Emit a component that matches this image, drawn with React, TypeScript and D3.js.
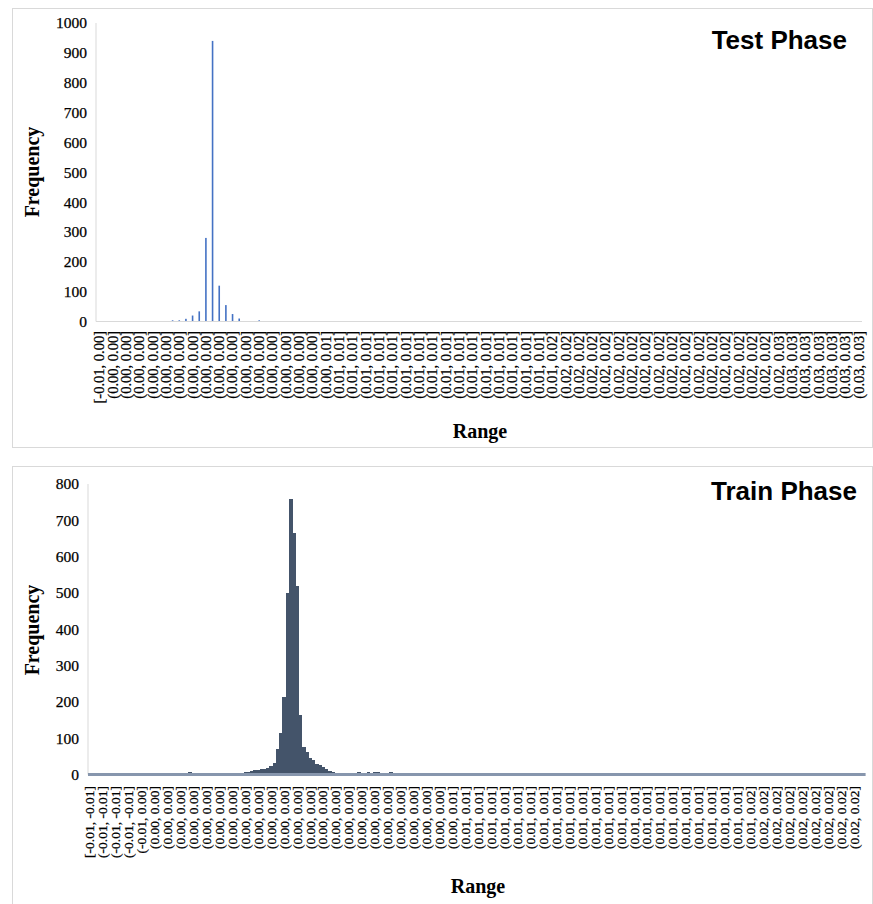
import React from "react";
import * as d3 from "d3";

// Bin labels, stored as [label, how many consecutive bins carry it]
const testLabelRuns: [string, number][] = [
  ["[-0.01, 0.00]", 1],
  ["(0.00, 0.00]", 16],
  ["(0.00, 0.01]", 1],
  ["(0.01, 0.01]", 16],
  ["(0.01, 0.02]", 1],
  ["(0.02, 0.02]", 16],
  ["(0.02, 0.03]", 1],
  ["(0.03, 0.03]", 6],
];

const trainLabelRuns: [string, number][] = [
  ["[-0.01, -0.01]", 1],
  ["(-0.01, -0.01]", 3],
  ["(-0.01, 0.00]", 1],
  ["(0.00, 0.00]", 23],
  ["(0.00, 0.01]", 1],
  ["(0.01, 0.01]", 22],
  ["(0.01, 0.02]", 1],
  ["(0.02, 0.02]", 8],
];

// Frequencies per bin (115 bins, every 2nd bin labelled)
const testCounts = [
  0, 0, 0, 0, 0, 0, 0, 0, 0, 0, 0, 4, 4, 9, 20, 34, 280, 940, 120, 55,
  25, 10, 0, 0, 4, 0, 0, 0, 0, 0, 0, 0, 0, 0, 0, 0, 0, 0, 0, 0,
  0, 0, 0, 0, 0, 0, 0, 0, 0, 0, 0, 0, 0, 0, 0, 0, 0, 0, 0, 0,
  0, 0, 0, 0, 0, 0, 0, 0, 0, 0, 0, 0, 0, 0, 0, 0, 0, 0, 0, 0,
  0, 0, 0, 0, 0, 0, 0, 0, 0, 0, 0, 0, 0, 0, 0, 0, 0, 0, 0, 0,
  0, 0, 0, 0, 0, 0, 0, 0, 0, 0, 0, 0, 0, 0, 0,
];

// Frequencies per bin (240 bins, every 4th bin labelled)
const trainCounts = [
  0, 0, 0, 0, 0, 0, 0, 0, 0, 0, 0, 0, 0, 0, 0, 0, 0, 0, 0, 0,
  0, 0, 0, 0, 0, 0, 0, 0, 0, 0, 0, 6, 0, 0, 0, 0, 0, 0, 5, 0,
  0, 5, 0, 0, 0, 5, 5, 0, 6, 6, 10, 12, 13, 14, 16, 18, 23, 31, 70, 115,
  214, 500, 760, 665, 520, 165, 76, 63, 45, 40, 30, 26, 21, 14, 9, 7, 5, 4, 3, 2,
  0, 0, 0, 6, 0, 0, 6, 0, 6, 6, 0, 0, 0, 6, 0, 0, 0, 0, 0, 0,
  0, 0, 0, 0, 0, 0, 0, 0, 0, 0, 0, 0, 0, 0, 0, 0, 0, 0, 0, 0,
  0, 0, 0, 0, 0, 0, 0, 0, 0, 0, 0, 0, 0, 0, 0, 0, 0, 0, 0, 0,
  0, 0, 0, 0, 0, 0, 0, 0, 0, 0, 0, 0, 0, 0, 0, 0, 0, 0, 0, 0,
  0, 0, 0, 0, 0, 0, 0, 0, 0, 0, 0, 0, 0, 0, 0, 0, 0, 0, 0, 0,
  0, 0, 0, 0, 0, 0, 0, 0, 0, 0, 0, 0, 0, 0, 0, 0, 0, 0, 0, 0,
  0, 0, 0, 0, 0, 0, 0, 0, 0, 0, 0, 0, 0, 0, 0, 0, 0, 0, 0, 0,
  0, 0, 0, 0, 0, 0, 0, 0, 0, 0, 0, 0, 0, 0, 0, 0, 0, 0, 0, 0,
];

const testYTicks = [0, 100, 200, 300, 400, 500, 600, 700, 800, 900, 1000];
const trainYTicks = [0, 100, 200, 300, 400, 500, 600, 700, 800];

const SERIF = "'Liberation Serif', 'Times New Roman', serif";
const SANS = "'Liberation Sans', Arial, sans-serif";

const expandRuns = (runs: [string, number][]) =>
  runs.flatMap(([label, n]) => Array.from({ length: n }, () => label));

type PanelProps = {
  card: { x: number; y: number; w: number; h: number };
  left: number;
  right: number;
  top: number;
  base: number;
  yMax: number;
  yTicks: number[];
  yLabelRight: number;
  counts: number[];
  labels: string[];
  labelEvery: number;
  labelTop: number;
  labelSize: number;
  barPadding: number;
  barFill: string;
  crisp: boolean;
  baseStroke: string;
  baseWidth: number;
  title: string;
  titleRight: number;
  titleY: number;
  rangeX: number;
  rangeY: number;
  freqX: number;
  freqY: number;
};

// Tick text is set a touch heavier than plain regular weight
const tickInk = { fill: "#000", stroke: "#000", strokeWidth: 0.25 };

function Panel(p: PanelProps) {
  const idx = p.counts.map((_, i) => i);
  const x = d3
    .scaleBand<number>()
    .domain(idx)
    .range([p.left, p.right])
    .paddingInner(p.barPadding)
    .paddingOuter(p.barPadding / 2);
  const step = x.step();
  const y = d3.scaleLinear().domain([0, p.yMax]).range([p.base, p.top]);

  return (
    <g>
      <rect
        x={p.card.x + 0.5}
        y={p.card.y + 0.5}
        width={p.card.w}
        height={p.card.h}
        fill="#fff"
        stroke="#d9d9d9"
      />
      {/* y axis */}
      <line x1={p.left} x2={p.left} y1={p.top} y2={p.base} stroke="#d9d9d9" />
      {p.yTicks.map((t) => (
        <text
          key={t}
          x={p.yLabelRight}
          y={y(t)}
          dy="0.35em"
          textAnchor="end"
          fontFamily={SERIF}
          fontSize={15.5}
          {...tickInk}
        >
          {t}
        </text>
      ))}
      {/* bars */}
      <g shapeRendering={p.crisp ? "crispEdges" : undefined}>
        {p.counts.map((c, i) => (
          <rect
            key={i}
            x={x(i) as number}
            y={y(c)}
            width={p.crisp ? x.bandwidth() + 0.6 : x.bandwidth()}
            height={p.base - y(c)}
            fill={p.barFill}
          />
        ))}
      </g>
      {/* x axis */}
      <line
        x1={p.left}
        x2={p.right}
        y1={p.base}
        y2={p.base}
        stroke={p.baseStroke}
        strokeWidth={p.baseWidth}
      />
      {p.labels.map((l, i) => {
        const bin = i * p.labelEvery;
        const cx = (x(bin) as number) + x.bandwidth() / 2;
        return (
          <text
            key={i}
            transform={`translate(${cx},${p.labelTop}) rotate(-90)`}
            dy="0.34em"
            textAnchor="end"
            fontFamily={SERIF}
            fontSize={p.labelSize}
            {...tickInk}
          >
            {l}
          </text>
        );
      })}
      <text
        x={p.rangeX}
        y={p.rangeY}
        textAnchor="middle"
        fontFamily={SERIF}
        fontWeight="bold"
        fontSize={20}
        fill="#000"
      >
        Range
      </text>
      <text
        transform={`translate(${p.freqX},${p.freqY}) rotate(-90)`}
        textAnchor="middle"
        fontFamily={SERIF}
        fontWeight="bold"
        fontSize={20}
        fill="#000"
      >
        Frequency
      </text>
      <text
        x={p.titleRight}
        y={p.titleY}
        textAnchor="end"
        fontFamily={SANS}
        fontWeight="bold"
        fontSize={26}
        fill="#000"
      >
        {p.title}
      </text>
    </g>
  );
}

export default function App() {
  const testLabels = expandRuns(testLabelRuns);
  const trainLabels = expandRuns(trainLabelRuns);
  return (
    <div style={{ position: "absolute", left: 0, top: 0 }}>
      <svg width={873} height={904} style={{ display: "block", background: "#fff" }}>
        <Panel
          card={{ x: 12, y: 8, w: 860, h: 439 }}
          left={96}
          right={862}
          top={23}
          base={321.5}
          yMax={1000}
          yTicks={testYTicks}
          yLabelRight={87}
          counts={testCounts}
          labels={testLabels}
          labelEvery={2}
          labelTop={331}
          labelSize={14.5}
          barPadding={0.76}
          barFill="#4472c4"
          crisp={false}
          baseStroke="#d9d9d9"
          baseWidth={1}
          title="Test Phase"
          titleRight={847}
          titleY={49}
          rangeX={480}
          rangeY={438}
          freqX={39}
          freqY={172}
        />
        <Panel
          card={{ x: 12, y: 466, w: 860, h: 440 }}
          left={88}
          right={865.6}
          top={484}
          base={774.5}
          yMax={800}
          yTicks={trainYTicks}
          yLabelRight={79}
          counts={trainCounts}
          labels={trainLabels}
          labelEvery={4}
          labelTop={786}
          labelSize={13.5}
          barPadding={0}
          barFill="#44546a"
          crisp={true}
          baseStroke="#8796ad"
          baseWidth={3}
          title="Train Phase"
          titleRight={857}
          titleY={500}
          rangeX={478}
          rangeY={893}
          freqX={39}
          freqY={630}
        />
      </svg>
    </div>
  );
}
